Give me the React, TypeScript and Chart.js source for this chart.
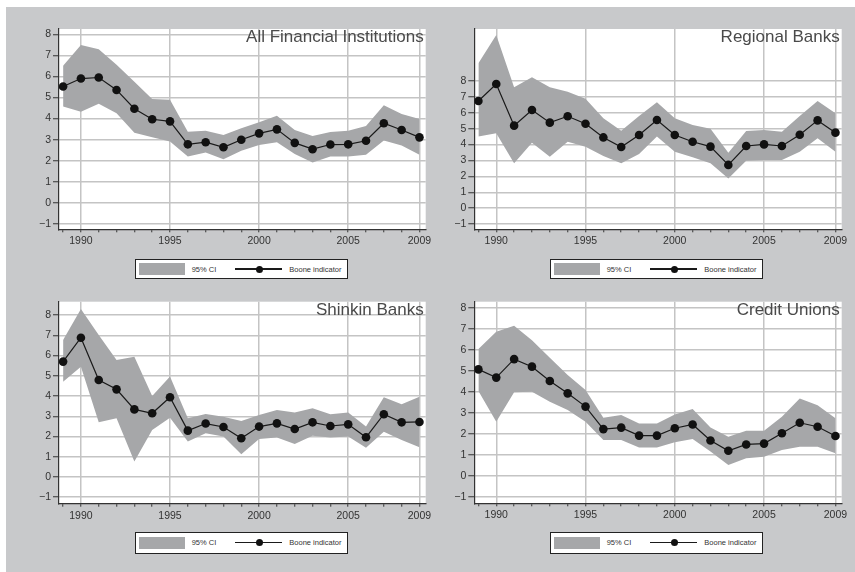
import React, { useEffect, useRef } from 'react';
import { Chart, registerables } from 'chart.js';

Chart.register(...registerables);
Chart.defaults.font.family = '"Liberation Sans", Arial, sans-serif';

// ---------- data ----------
const years = [1989, 1990, 1991, 1992, 1993, 1994, 1995, 1996, 1997, 1998, 1999, 2000, 2001, 2002, 2003, 2004, 2005, 2006, 2007, 2008, 2009];
const labeledYears = [1990, 1995, 2000, 2005, 2009];
const yTickValues = [-1, 0, 1, 2, 3, 4, 5, 6, 7, 8];

const titles = ['All Financial Institutions', 'Regional Banks', 'Shinkin Banks', 'Credit Unions'];
const legendLabels = ['95% CI', 'Boone indicator'];

const allFinBoone = [5.52, 5.90, 5.95, 5.36, 4.47, 3.97, 3.87, 2.78, 2.88, 2.64, 3.00, 3.30, 3.49, 2.85, 2.55, 2.77, 2.78, 2.95, 3.78, 3.46, 3.11];
const allFinUpper = [6.51, 7.49, 7.29, 6.55, 5.75, 4.93, 4.90, 3.38, 3.43, 3.22, 3.54, 3.83, 4.14, 3.46, 3.18, 3.37, 3.42, 3.65, 4.63, 4.22, 3.98];
const allFinLower = [4.57, 4.33, 4.70, 4.25, 3.33, 3.11, 2.91, 2.20, 2.39, 2.07, 2.48, 2.75, 2.88, 2.32, 1.92, 2.20, 2.20, 2.28, 2.96, 2.72, 2.28];

const regionalBoone = [6.74, 7.81, 5.19, 6.17, 5.38, 5.78, 5.31, 4.45, 3.85, 4.60, 5.55, 4.60, 4.18, 3.87, 2.72, 3.91, 4.01, 3.91, 4.62, 5.52, 4.75];
const regionalUpper = [9.11, 10.90, 7.60, 8.23, 7.60, 7.33, 6.89, 5.65, 4.87, 5.80, 6.66, 5.65, 5.23, 5.00, 3.49, 4.85, 4.91, 4.81, 5.80, 6.74, 5.97];
const regionalLower = [4.50, 4.71, 2.82, 4.12, 3.24, 4.18, 3.87, 3.28, 2.82, 3.41, 4.50, 3.55, 3.20, 2.82, 1.87, 2.98, 3.03, 3.03, 3.55, 4.39, 3.55];

const shinkinBoone = [5.70, 6.88, 4.79, 4.33, 3.34, 3.15, 3.94, 2.29, 2.64, 2.47, 1.91, 2.49, 2.65, 2.37, 2.70, 2.52, 2.60, 1.96, 3.10, 2.70, 2.72];
const shinkinUpper = [6.77, 8.30, 7.01, 5.78, 5.94, 4.00, 4.96, 2.90, 3.11, 2.98, 2.77, 3.06, 3.31, 3.18, 3.39, 3.10, 3.18, 2.49, 3.94, 3.59, 3.97];
const shinkinLower = [4.71, 5.45, 2.70, 2.90, 0.76, 2.32, 2.93, 1.75, 2.16, 2.00, 1.12, 1.88, 1.95, 1.63, 2.04, 1.95, 2.00, 1.45, 2.24, 1.83, 1.47];

const creditBoone = [5.07, 4.68, 5.56, 5.20, 4.52, 3.93, 3.30, 2.23, 2.30, 1.92, 1.92, 2.27, 2.45, 1.69, 1.20, 1.50, 1.54, 2.03, 2.53, 2.34, 1.90];
const creditUpper = [6.04, 6.86, 7.15, 6.46, 5.62, 4.80, 4.09, 2.77, 2.90, 2.50, 2.50, 2.93, 3.19, 2.30, 1.87, 2.15, 2.15, 2.82, 3.69, 3.37, 2.74];
const creditLower = [4.04, 2.58, 3.98, 4.01, 3.53, 3.14, 2.58, 1.71, 1.71, 1.35, 1.35, 1.60, 1.76, 1.16, 0.52, 0.84, 0.92, 1.23, 1.39, 1.39, 1.08];

// ---------- styles ----------
const BG = '#c8c9cb';
const CI_COLOR = '#a6a7a9';
const GRID = '#c4c4c4';
const AXIS = '#333333';
const TEXT = '#333333';
const FONT = '"Liberation Sans", Arial, sans-serif';
const Y_AXIS_W = 40;
const X_AXIS_H = 25;

type PanelSpec = {
  title: string;
  boone: number[];
  upper: number[];
  lower: number[];
  canvas: { left: number; top: number; width: number; height: number };
  area: { left: number; top: number; right: number; bottom: number };
  yMin: number;
  yMax: number;
  legendTop: number;
  legendLeft: number;
  legendH: number;
};

const X_MIN = 1988.77;
const X_MAX = 2009.35;

const panels: PanelSpec[] = [
  {
    title: titles[0], boone: allFinBoone, upper: allFinUpper, lower: allFinLower,
    canvas: { left: 6, top: 7, width: 445, height: 283 },
    area: { left: 59, top: 29, right: 425.7, bottom: 229.3 },
    yMin: -1.25, yMax: 8.25, legendTop: 259, legendLeft: 135, legendH: 20,
  },
  {
    title: titles[1], boone: regionalBoone, upper: regionalUpper, lower: regionalLower,
    canvas: { left: 428, top: 7, width: 427, height: 283 },
    area: { left: 474.3, top: 29, right: 841.7, bottom: 229.3 },
    yMin: -1.33, yMax: 11.27, legendTop: 259, legendLeft: 550, legendH: 20,
  },
  {
    title: titles[2], boone: shinkinBoone, upper: shinkinUpper, lower: shinkinLower,
    canvas: { left: 6, top: 285, width: 445, height: 287 },
    area: { left: 59, top: 301.7, right: 425.7, bottom: 503.7 },
    yMin: -1.32, yMax: 8.66, legendTop: 532, legendLeft: 135, legendH: 21.5,
  },
  {
    title: titles[3], boone: creditBoone, upper: creditUpper, lower: creditLower,
    canvas: { left: 428, top: 285, width: 427, height: 287 },
    area: { left: 474.3, top: 301.7, right: 841.7, bottom: 503.3 },
    yMin: -1.3, yMax: 8.29, legendTop: 532, legendLeft: 550, legendH: 21.5,
  },
];

const whiteArea = {
  id: 'whiteArea',
  beforeDraw(chart: any) {
    const { ctx, chartArea } = chart;
    ctx.save();
    ctx.fillStyle = '#ffffff';
    ctx.fillRect(chartArea.left, chartArea.top, chartArea.right - chartArea.left, chartArea.bottom - chartArea.top);
    ctx.restore();
  },
};

function Panel({ p }: { p: PanelSpec }) {
  const ref = useRef<HTMLCanvasElement | null>(null);
  useEffect(() => {
    const c = p.canvas;
    const padding = {
      left: p.area.left - c.left - Y_AXIS_W,
      top: p.area.top - c.top,
      right: c.left + c.width - p.area.right,
      bottom: c.top + c.height - p.area.bottom - X_AXIS_H,
    };
    const chart = new Chart(ref.current as HTMLCanvasElement, {
      type: 'line',
      data: {
        datasets: [
          {
            data: years.map((x, i) => ({ x, y: p.upper[i] })),
            borderWidth: 0,
            borderColor: 'rgba(0,0,0,0)',
            pointRadius: 0,
            fill: '+1',
            backgroundColor: CI_COLOR,
            order: 2,
          },
          {
            data: years.map((x, i) => ({ x, y: p.lower[i] })),
            borderWidth: 0,
            borderColor: 'rgba(0,0,0,0)',
            pointRadius: 0,
            fill: false,
            order: 3,
          },
          {
            data: years.map((x, i) => ({ x, y: p.boone[i] })),
            borderColor: '#1a1a1a',
            borderWidth: 1.2,
            pointRadius: 4.3,
            pointBackgroundColor: '#111111',
            pointBorderWidth: 0,
            fill: false,
            order: 1,
          },
        ] as any,
      },
      options: {
        responsive: false,
        animation: false,
        events: [],
        layout: { padding },
        plugins: { legend: { display: false }, tooltip: { enabled: false }, title: { display: false } },
        scales: {
          x: {
            type: 'linear',
            min: X_MIN,
            max: X_MAX,
            afterBuildTicks: (s: any) => { s.ticks = years.map((v) => ({ value: v })); },
            afterFit: (s: any) => { s.height = X_AXIS_H; },
            ticks: {
              callback: (v: any) => (labeledYears.includes(Number(v)) ? String(v) : ''),
              font: { size: 10.5, family: FONT },
              color: TEXT,
              padding: 3,
              maxRotation: 0,
              autoSkip: false,
            },
            grid: {
              color: (ctx: any) => (ctx.tick && labeledYears.includes(ctx.tick.value) ? GRID : 'rgba(0,0,0,0)'),
              lineWidth: 1.5,
              tickColor: AXIS,
              tickLength: 3,
              tickWidth: 1,
            },
            border: { display: true, color: AXIS, width: 1.2 },
          },
          y: {
            type: 'linear',
            min: p.yMin,
            max: p.yMax,
            afterBuildTicks: (s: any) => { s.ticks = yTickValues.map((v) => ({ value: v })); },
            afterFit: (s: any) => { s.width = Y_AXIS_W; },
            ticks: {
              callback: (v: any) => (Number(v) < 0 ? '\u2212' + Math.abs(Number(v)) : String(v)),
              font: { size: 10.5, family: FONT },
              color: TEXT,
              padding: 2,
              autoSkip: false,
            },
            grid: {
              color: GRID,
              lineWidth: 1.5,
              tickColor: AXIS,
              tickLength: 6,
              tickWidth: 1,
            },
            border: { display: true, color: AXIS, width: 1.2 },
          },
        },
      } as any,
      plugins: [whiteArea],
    });
    return () => chart.destroy();
  }, [p]);

  const c = p.canvas;
  return (
    <>
      <canvas
        ref={ref}
        width={c.width}
        height={c.height}
        style={{ position: 'absolute', left: c.left, top: c.top, width: c.width, height: c.height }}
      />
      <div
        style={{
          position: 'absolute',
          left: p.area.right - 402,
          top: p.area.top - 0.7,
          width: 400,
          textAlign: 'right',
          fontFamily: FONT,
          fontSize: 17,
          lineHeight: '17px',
          color: '#4a4a4a',
          whiteSpace: 'nowrap',
        }}
      >
        {p.title}
      </div>
      <Legend left={p.legendLeft} top={p.legendTop} height={p.legendH} />
    </>
  );
}

function Legend({ left, top, height }: { left: number; top: number; height: number }) {
  const mid = height / 2;
  return (
    <div
      style={{
        position: 'absolute',
        left,
        top,
        width: 213,
        height,
        boxSizing: 'border-box',
        border: '1px solid #222',
        background: '#ffffff',
        fontFamily: FONT,
        fontSize: 7.5,
        color: TEXT,
      }}
    >
      <div style={{ position: 'absolute', left: 2.5, top: mid - 7, width: 46.5, height: 12, background: CI_COLOR }} />
      <div style={{ position: 'absolute', left: 55.7, top: mid - 5.5, lineHeight: '9px', whiteSpace: 'nowrap' }}>{legendLabels[0]}</div>
      <div style={{ position: 'absolute', left: 99, top: mid - 1.6, width: 46.7, height: 1.2, background: '#1a1a1a' }} />
      <div style={{ position: 'absolute', left: 119.8, top: mid - 4.5, width: 7, height: 7, borderRadius: '50%', background: '#111' }} />
      <div style={{ position: 'absolute', left: 153.3, top: mid - 5.5, lineHeight: '9px', whiteSpace: 'nowrap' }}>{legendLabels[1]}</div>
    </div>
  );
}

export default function App() {
  return (
    <div style={{ position: 'absolute', left: 0, top: 0, width: 855, height: 572, background: '#ffffff', overflow: 'hidden' }}>
      <div style={{ position: 'absolute', left: 6, top: 7, width: 849, height: 565, background: BG }} />
      {panels.map((p, i) => (
        <Panel key={i} p={p} />
      ))}
    </div>
  );
}
